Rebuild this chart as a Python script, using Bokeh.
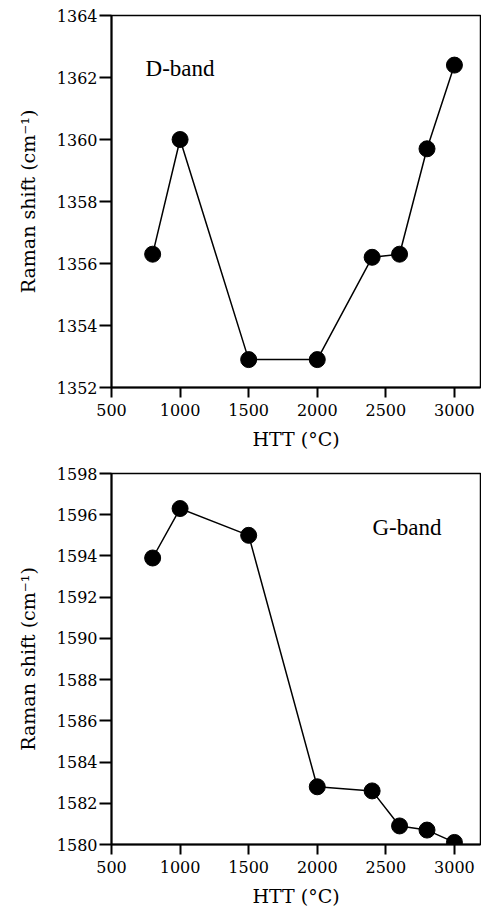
from bokeh.plotting import figure
from bokeh.layouts import column
from bokeh.models import Range1d, FixedTicker, Label
from bokeh.embed import file_html
from bokeh.resources import INLINE

# Data
htt = [800, 1000, 1500, 2000, 2400, 2600, 2800, 3000]
d_band = [1356.3, 1360.0, 1352.9, 1352.9, 1356.2, 1356.3, 1359.7, 1362.4]
g_band = [1593.9, 1596.3, 1595.0, 1582.8, 1582.6, 1580.9, 1580.7, 1580.1]

x_ticks = [500, 1000, 1500, 2000, 2500, 3000]
d_ticks = [1352, 1354, 1356, 1358, 1360, 1362, 1364]
g_ticks = [1580, 1582, 1584, 1586, 1588, 1590, 1592, 1594, 1596, 1598]

x_title = "HTT (\u00b0C)"
y_title = "Raman shift (cm\u207b\u00b9)"

FONT = "'Liberation Serif', 'Times New Roman', serif"
AXFONT = "DejaVu Serif"


def make(y, yticks, yr, label, lx, ly, top, fh, bottom):
    p = figure(frame_width=369, frame_height=fh,
               output_backend="svg", toolbar_location=None,
               x_range=Range1d(500, 3190), y_range=Range1d(*yr),
               min_border_left=111, min_border_right=1,
               min_border_top=top, min_border_bottom=bottom)
    p.grid.visible = False
    p.outline_line_color = "black"
    p.outline_line_width = 1.5
    p.background_fill_color = "white"
    p.border_fill_color = "white"
    for ax in (p.xaxis[0], p.yaxis[0]):
        ax.axis_line_width = 2
        ax.major_tick_line_width = 2
        ax.major_tick_in = 0
        ax.minor_tick_line_color = None
        ax.major_label_text_font = AXFONT
        ax.major_label_text_font_size = "16px"
        ax.major_label_text_color = "black"
        ax.axis_label_text_font = AXFONT
        ax.axis_label_text_font_size = "19px"
        ax.axis_label_text_font_style = "normal"
        ax.axis_label_text_color = "black"
    p.xaxis.major_tick_out = 10
    p.yaxis.major_tick_out = 12
    p.xaxis.ticker = FixedTicker(ticks=x_ticks)
    p.yaxis.ticker = FixedTicker(ticks=yticks)
    p.xaxis.axis_label = x_title
    p.yaxis.axis_label = y_title
    p.xaxis.major_label_standoff = 6
    p.yaxis.major_label_standoff = 2
    p.xaxis.axis_label_standoff = 9
    p.yaxis.axis_label_standoff = 15
    p.line(htt, y, line_color="black", line_width=1.5)
    p.scatter(htt, y, size=16, fill_color="black", line_color="black")
    p.add_layout(Label(x=lx, y=ly, text=label, text_font=FONT,
                       text_font_size="23px", text_color="black",
                       text_baseline="alphabetic"))
    return p


p1 = make(d_band, d_ticks, (1352, 1364), "D-band", 748, 1362.3, 15, 372, 73)
p2 = make(g_band, g_ticks, (1580, 1598), "G-band", 2402, 1595.4, 13, 371, 68)

layout = column(p1, p2, spacing=0)
open("out.html", "w").write(file_html(layout, INLINE))
